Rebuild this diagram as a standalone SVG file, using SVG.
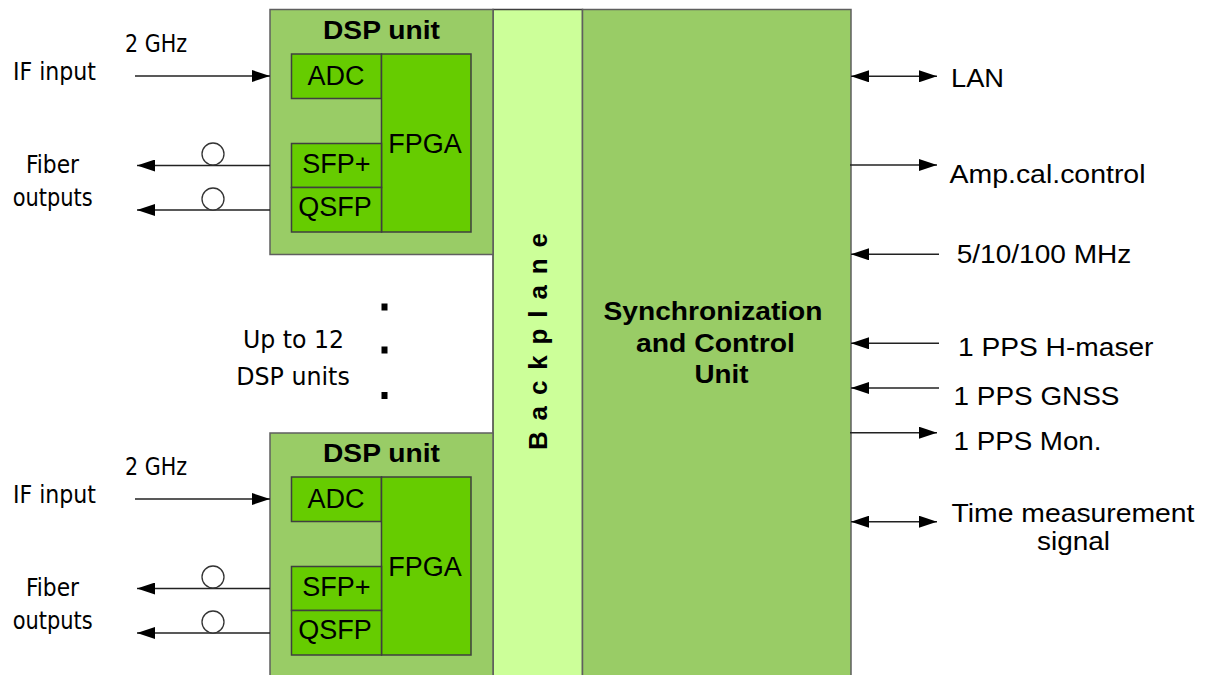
<svg xmlns="http://www.w3.org/2000/svg" width="1209" height="675" viewBox="0 0 1209 675">
<style>
.outer{fill:#99cc66;stroke:#5f5f5f;stroke-width:1.5}
.inner{fill:#66cc00;stroke:#3f3f3f;stroke-width:1.5}
.bp{fill:#ccff99;stroke:#3f3f3f;stroke-width:1.5}
.sync{fill:#99cc66;stroke:#5f5f5f;stroke-width:1.5}
.ln{fill:none;stroke:#222;stroke-width:1.4}
.fib{fill:#fff;stroke:#333;stroke-width:1.3}
.box{font-family:"Liberation Sans",Arial,sans-serif;font-size:27px;fill:#000;text-anchor:middle}
.title{font-family:"Liberation Sans",Arial,sans-serif;font-size:26px;font-weight:bold;fill:#000;text-anchor:middle}
.lbl{font-family:"DejaVu Sans Condensed","DejaVu Sans",sans-serif;font-size:24px;fill:#000}
.rl{font-family:"Liberation Sans",Arial,sans-serif;font-size:26px;fill:#000}
.mid{text-anchor:middle}
</style>
<defs>
<marker id="ah" markerUnits="userSpaceOnUse" markerWidth="18" markerHeight="12" refX="18" refY="6" orient="auto-start-reverse">
<path d="M0,0 L18,6 L0,12 Z" fill="#000"/>
</marker>
</defs>
<rect width="1209" height="675" fill="#fff"/>

<g id="backplane">
<rect class="bp" x="493" y="9.5" width="89.5" height="680"/>
<text class="title" style="text-anchor:start" font-size="25" transform="translate(546.5,450) rotate(-90)" textLength="217" lengthAdjust="spacing">Backplane</text>
</g>

<g id="sync-unit">
<rect class="sync" x="582.5" y="9.5" width="268.5" height="680"/>
<text class="title" x="713" y="320" textLength="219" lengthAdjust="spacingAndGlyphs">Synchronization</text>
<text class="title" x="715.5" y="351.7" textLength="159" lengthAdjust="spacingAndGlyphs">and Control</text>
<text class="title" x="721.5" y="383" textLength="54" lengthAdjust="spacingAndGlyphs">Unit</text>
</g>

<g id="dsp-unit-1">
<rect class="outer" x="270" y="9.5" width="223" height="245"/>
<text class="title" x="381.5" y="39.3" textLength="117" lengthAdjust="spacingAndGlyphs">DSP unit</text>
<rect class="inner" x="291.5" y="54" width="90" height="44.5"/>
<text class="box" x="336" y="85">ADC</text>
<rect class="inner" x="381.5" y="54" width="89.5" height="178"/>
<text class="box" x="425" y="152.7">FPGA</text>
<rect class="inner" x="291.5" y="143.5" width="90" height="44"/>
<text class="box" x="336.5" y="172.7">SFP+</text>
<rect class="inner" x="291.5" y="187.5" width="90" height="44.5"/>
<text class="box" x="335" y="216">QSFP</text>
</g>

<g id="dsp-unit-2">
<rect class="outer" x="270" y="433" width="223" height="260"/>
<text class="title" x="381.5" y="462.3" textLength="117" lengthAdjust="spacingAndGlyphs">DSP unit</text>
<rect class="inner" x="291.5" y="477" width="90" height="44.5"/>
<text class="box" x="336" y="508">ADC</text>
<rect class="inner" x="381.5" y="477" width="89.5" height="178"/>
<text class="box" x="425" y="575.7">FPGA</text>
<rect class="inner" x="291.5" y="566.5" width="90" height="44"/>
<text class="box" x="336.5" y="595.7">SFP+</text>
<rect class="inner" x="291.5" y="610.5" width="90" height="44.5"/>
<text class="box" x="335" y="639">QSFP</text>
</g>

<g id="connectors">
<path class="ln" d="M135,76 H270" marker-end="url(#ah)"/>
<path class="ln" d="M270,165.5 H137" marker-end="url(#ah)"/>
<path class="ln" d="M270,210 H137" marker-end="url(#ah)"/>
<circle class="fib" cx="213" cy="154" r="11"/>
<circle class="fib" cx="213" cy="199" r="11"/>
<path class="ln" d="M135,499 H270" marker-end="url(#ah)"/>
<path class="ln" d="M270,588.5 H137" marker-end="url(#ah)"/>
<path class="ln" d="M270,633 H137" marker-end="url(#ah)"/>
<circle class="fib" cx="213" cy="577" r="11"/>
<circle class="fib" cx="213" cy="622" r="11"/>

<path class="ln" d="M851,76.3 H937" marker-start="url(#ah)" marker-end="url(#ah)"/>
<path class="ln" d="M850,165 H937" marker-end="url(#ah)"/>
<path class="ln" d="M939,254.3 H851" marker-end="url(#ah)"/>
<path class="ln" d="M939,343.3 H851" marker-end="url(#ah)"/>
<path class="ln" d="M939,388 H851" marker-end="url(#ah)"/>
<path class="ln" d="M850,432.7 H937" marker-end="url(#ah)"/>
<path class="ln" d="M851,521.7 H937" marker-start="url(#ah)" marker-end="url(#ah)"/>
</g>

<g id="labels-left">
<text class="lbl" x="125" y="52" font-size="21" textLength="62" lengthAdjust="spacingAndGlyphs">2 GHz</text>
<text class="lbl" x="13" y="80" textLength="83" lengthAdjust="spacingAndGlyphs">IF input</text>
<text class="lbl mid" x="52.5" y="172.7" textLength="53" lengthAdjust="spacingAndGlyphs">Fiber</text>
<text class="lbl mid" x="52.7" y="206" textLength="80" lengthAdjust="spacingAndGlyphs">outputs</text>
<text class="lbl" x="125" y="475" font-size="21" textLength="62" lengthAdjust="spacingAndGlyphs">2 GHz</text>
<text class="lbl" x="13" y="503" textLength="83" lengthAdjust="spacingAndGlyphs">IF input</text>
<text class="lbl mid" x="52.5" y="595.7" textLength="53" lengthAdjust="spacingAndGlyphs">Fiber</text>
<text class="lbl mid" x="52.7" y="629" textLength="80" lengthAdjust="spacingAndGlyphs">outputs</text>
<text class="lbl mid" x="293.5" y="348" font-size="25" textLength="101" lengthAdjust="spacingAndGlyphs">Up to 12</text>
<text class="lbl mid" x="293" y="385" font-size="25" textLength="113.5" lengthAdjust="spacingAndGlyphs">DSP units</text>
</g>

<g id="ellipsis">
<rect x="381.5" y="303.5" width="6" height="7" fill="#000"/>
<rect x="381.5" y="346.5" width="6" height="7" fill="#000"/>
<rect x="381.5" y="392" width="6" height="7" fill="#000"/>
</g>

<g id="labels-right">
<text class="rl" x="951" y="87.3" textLength="53" lengthAdjust="spacingAndGlyphs">LAN</text>
<text class="rl" x="949.5" y="183" textLength="196" lengthAdjust="spacingAndGlyphs">Amp.cal.control</text>
<text class="rl" x="956.7" y="263.3" textLength="174.7" lengthAdjust="spacingAndGlyphs">5/10/100 MHz</text>
<text class="rl" x="958" y="356" textLength="195.5" lengthAdjust="spacingAndGlyphs">1 PPS H-maser</text>
<text class="rl" x="953.5" y="405" textLength="166" lengthAdjust="spacingAndGlyphs">1 PPS GNSS</text>
<text class="rl" x="953.5" y="450" textLength="148" lengthAdjust="spacingAndGlyphs">1 PPS Mon.</text>
<text class="rl" x="951.5" y="521.7" textLength="243" lengthAdjust="spacingAndGlyphs">Time measurement</text>
<text class="rl mid" x="1073.5" y="549.5" textLength="73" lengthAdjust="spacingAndGlyphs">signal</text>
</g>
</svg>
